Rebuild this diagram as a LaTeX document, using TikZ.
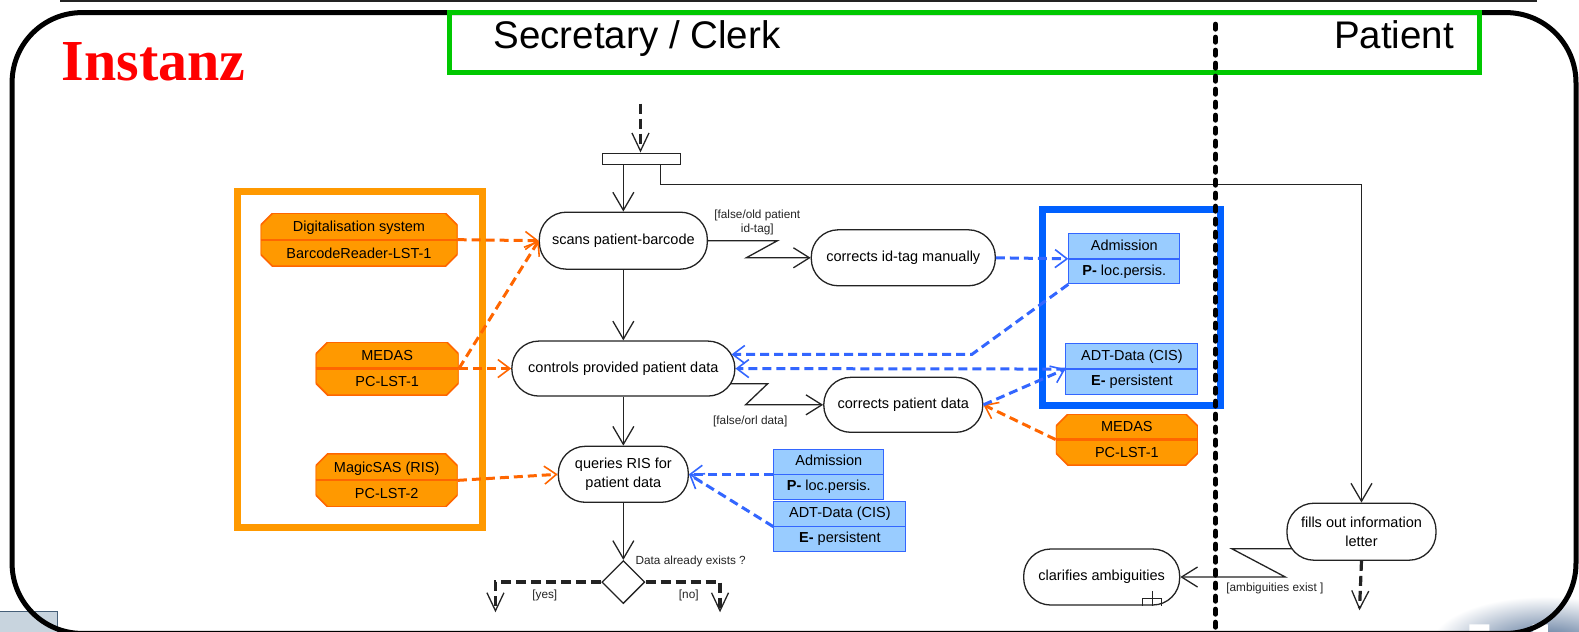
\documentclass[tikz,border=0pt]{standalone}
\usepackage{fontspec}
\setmainfont{Liberation Sans}
\newfontfamily\headserif{Liberation Serif}
\usetikzlibrary{arrows.meta,shapes.geometric,calc}

\definecolor{laneGreen}{RGB}{0,200,0}
\definecolor{sysOrange}{RGB}{255,153,0}
\definecolor{sysEdge}{RGB}{255,102,0}
\definecolor{dataFill}{RGB}{153,204,255}
\definecolor{dataEdge}{RGB}{51,102,255}
\definecolor{dataFrame}{RGB}{0,96,255}
\definecolor{flowInk}{RGB}{35,35,35}
\definecolor{logoFill}{RGB}{200,212,222}
\definecolor{logoEdge}{RGB}{70,95,120}
\definecolor{blobBlue}{RGB}{75,105,145}

\tikzset{
  action/.style={draw=flowInk, line width=1.3pt, fill=white,
    rounded corners=27pt, minimum height=56pt, inner sep=2pt,
    align=center, font=\fontsize{14.5}{19}\selectfont},
  sysbox/.style={minimum width=#1, minimum height=53pt, inner sep=0pt,
    align=center, font=\fontsize{14.5}{26.5}\selectfont,
    path picture={
      \path[fill=sysOrange, draw=sysEdge, line width=1.6pt]
        let \p1=(path picture bounding box.south west),
            \p2=(path picture bounding box.north east) in
        (\x1+12pt,\y1) -- (\x2-12pt,\y1) -- (\x2,\y1+12pt) -- (\x2,\y2-12pt)
        -- (\x2-12pt,\y2) -- (\x1+12pt,\y2) -- (\x1,\y2-12pt) -- (\x1,\y1+12pt) -- cycle;
      \draw[sysEdge, line width=2.2pt] (path picture bounding box.west) -- (path picture bounding box.east);
    }},
  databox/.style={draw=dataEdge, fill=dataFill, line width=1pt,
    minimum width=#1, minimum height=50pt, inner sep=0pt, align=center,
    font=\fontsize{14.5}{25}\selectfont,
    path picture={\draw[dataEdge, line width=1.6pt] (path picture bounding box.west) -- (path picture bounding box.east);}},
  flow/.style={draw=flowInk, line width=1.3pt, -{Straight Barb[length=18pt,width=21pt]}},
  zig/.style={draw=flowInk, line width=1.3pt, -{Straight Barb[length=16pt,width=20pt]}},
  sysflow/.style={draw=sysEdge, line width=3pt, dash pattern=on 9pt off 5pt,
    -{Straight Barb[length=12pt,width=18pt,line width=1.6pt]}},
  dataflow/.style={draw=dataEdge, line width=3pt, dash pattern=on 9pt off 5pt,
    -{Straight Barb[length=12pt,width=18pt,line width=1.6pt]}},
  branchflow/.style={draw=flowInk, line width=3.2pt, dash pattern=on 10pt off 5pt,
    -{Straight Barb[length=18pt,width=17pt,line width=1.3pt]}},
  guard/.style={font=\fontsize{11.8}{13.5}\selectfont, inner sep=0pt, align=center, text=flowInk},
}

\begin{document}
\begin{tikzpicture}[x=1.007pt, y=-1.007pt]
\useasboundingbox (0,0) rectangle (1568,627);

% corner artwork behind the frame
\fill[logoFill, draw=logoEdge, line width=1.5pt] (-3,607) rectangle (57,632);
\shade[inner color=blobBlue, outer color=white] (1535,640) ellipse [x radius=115pt, y radius=48pt];
\fill[white] (1459,620) rectangle (1479,630) (1522,620) rectangle (1537,630);

% outer frame and top rule
\draw[line width=5pt, rounded corners=70pt] (12,12.5) rectangle (1565,629);
\draw[line width=1.5pt, flowInk] (60,1) -- (1526,1);

% title
\node[anchor=base west, inner sep=0pt, text=red,
      font=\headserif\bfseries\fontsize{58}{60}\selectfont] (title) at (61,79.5) {Instanz};

% swimlane header
\draw[laneGreen, line width=5pt] (446,12.5) rectangle (1469,72);
\node[anchor=base west, inner sep=0pt, font=\fontsize{38.5}{40}\selectfont] (laneA) at (490,48.5) {Secretary / Clerk};
\node[anchor=base east, inner sep=0pt, font=\fontsize{38.5}{40}\selectfont] (laneB) at (1444,48.5) {Patient};

% grouping frames
\draw[sysOrange, line width=7pt] (236,190) rectangle (479,524);
\draw[dataFrame, line width=7pt] (1035,208) rectangle (1212,403);

% actions
\node[action, minimum width=168pt, minimum height=57pt] (scans) at (619,239) {scans patient-barcode};
\node[action, minimum width=223pt, minimum height=55pt] (ctrl) at (619,366) {controls provided patient data};
\node[action, minimum width=184pt] (cid) at (897,256) {corrects id-tag manually};
\node[action, minimum width=159pt, minimum height=55pt] (cpd) at (897,402) {corrects patient data};
\node[action, minimum width=130pt] (qris) at (619,471) {queries RIS for\\patient data};
\node[action, minimum width=149pt, minimum height=57pt] (fills) at (1352,528) {fills out information\\letter};
\node[action, minimum width=156pt] (clar) at (1094,573) {clarifies ambiguities};
\draw[flowInk, line width=1pt] (1144,587) -- (1144,601.5) (1135,601.5) -- (1135,594) -- (1153,594) -- (1153,601.5);

% fork bar and decision
\node[draw=flowInk, fill=white, line width=1.2pt, minimum width=78pt, minimum height=11pt, inner sep=0pt] (fork) at (637,157.5) {};
\node[diamond, draw=flowInk, fill=white, line width=1.3pt, minimum width=43pt, minimum height=43pt, inner sep=0pt] (dec) at (619,578) {};

% systems
\node[sysbox=197pt] (dig) at (356.5,238) {Digitalisation system\\BarcodeReader-LST-1};
\node[sysbox=143pt] (medL) at (384.5,366) {MEDAS\\PC-LST-1};
\node[sysbox=142pt] (magic) at (384,477) {MagicSAS (RIS)\\PC-LST-2};
\node[sysbox=142pt, minimum height=51pt] (medR) at (1119,436.5) {MEDAS\\PC-LST-1};

% data stores
\node[databox=111pt] (admR) at (1116.5,257) {Admission\\\textbf{P-} loc.persis.};
\node[databox=132pt, minimum height=51pt] (adtR) at (1124,366.5) {ADT-Data (CIS)\\\textbf{E-} persistent};
\node[databox=110pt] (admL) at (823,471) {Admission\\\textbf{P-} loc.persis.};
\node[databox=132pt] (adtL) at (834,523) {ADT-Data (CIS)\\\textbf{E-} persistent};

% control flow
\coordinate (start) at (636,103);
\draw[branchflow] (start) -- (start |- fork.north);
\draw[flow] (scans.north |- fork.south) -- (scans.north);
\coordinate (forkR) at (656,163);
\draw[flow] (forkR) -- ++(0,20) -| (fills.north);
\draw[flow] (scans.south) -- (ctrl.north);
\draw[flow] (ctrl.south) -- (qris.north);
\draw[flow] (qris.south) -- (dec.north);

% interrupting branches
\draw[zig] (scans.east) -- ++(69,0) -- ++(-31,17) -- (cid.west);
\draw[zig] ($(ctrl.east)+(-5,15)$) -- ++(37,0) -- ++(-22,21) -- (cpd.west);
\draw[zig] ($(fills.west)+(6,17)$) -- ++(-60,0) -- ++(53,28) -- (clar.east);

% decision outcomes
\coordinate (yesEnd) at (492,608);
\coordinate (noEnd) at (715,608);
\coordinate (fillsEnd) at (1350,606);
\draw[branchflow] (dec.west) -| (yesEnd);
\draw[branchflow] (dec.east) -| (noEnd);
\draw[branchflow] (fills.south) -- (fillsEnd);

% guards
\node[guard] (g1) at (752,221) {[false/old patient\\id-tag]};
\node[guard] (g2) at (745,419) {[false/orl data]};
\node[guard, anchor=west] (g3) at (631,558) {Data already exists ?};
\node[guard] (g4) at (541,591) {[yes]};
\node[guard] (g5) at (684,591) {[no]};
\node[guard] (g6) at (1266,584) {[ambiguities exist ]};

% system usage
\draw[sysflow] (dig.east) -- (scans.west);
\draw[sysflow] (medL.east) -- (scans.west);
\draw[sysflow] (medL.east) -- (ctrl.west);
\draw[sysflow] (magic.east) -- (qris.west);
\draw[sysflow] (medR.west) -- (cpd.east);

% data access
\coordinate (bendA) at (965,352);
\draw[dataflow] (cid.east) -- (admR.west);
\draw[dataflow] (admR.south west) -- (bendA) -- ($(ctrl.east)+(-4,-14)$);
\draw[dataflow] (adtR.west) -- (ctrl.east);
\draw[dataflow] (cpd.east) -- (adtR.west);
\draw[dataflow] (admL.west) -- (qris.east);
\draw[dataflow] (adtL.west) -- (qris.east);

% lane partition
\draw[line width=5pt, line cap=round, dash pattern=on 5pt off 8pt] (1207,24) -- (1207,640);
\end{tikzpicture}
\end{document}
